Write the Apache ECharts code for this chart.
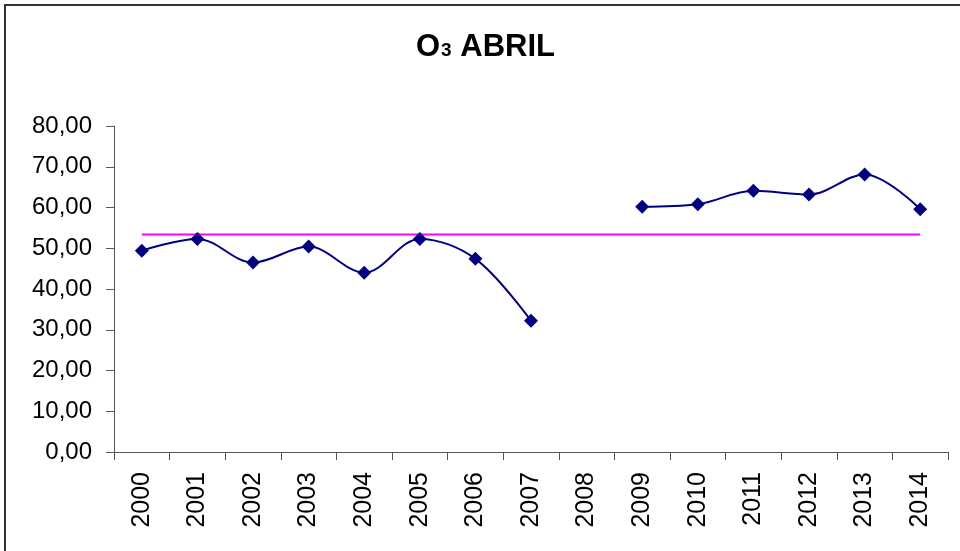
<!DOCTYPE html>
<html>
<head>
<meta charset="utf-8">
<script src="https://cdn.jsdelivr.net/npm/echarts@6/dist/echarts.min.js"></script>
<style>
html,body{margin:0;padding:0;background:#fff;}
#c{width:960px;height:551px;}
</style>
</head>
<body>
<div id="c"></div>
<script>
var years = ['2000','2001','2002','2003','2004','2005','2006','2007','2008','2009','2010','2011','2012','2013','2014'];
var o3Values = [49.4, 52.3, 46.5, 50.4, 44.0, 52.3, 47.4, 32.2, null, 60.2, 60.8, 64.1, 63.2, 68.1, 59.6];
var meanValue = 53.4;
var meanValues = years.map(function(){ return meanValue; });
var yTicks = {min: 0, max: 80, interval: 10};

var FONT = 'Liberation Sans, Arial, sans-serif';
var chart = echarts.init(document.getElementById('c'), null, {renderer: 'canvas'});
chart.setOption({
  backgroundColor: '#fff',
  animation: false,
  title: {
    text: '{a|O}{b|3}{a| ABRIL}',
    left: 411,
    top: 24,
    textStyle: {
      rich: {
        a: {fontFamily: FONT, fontWeight: 'bold', fontSize: 31, color: '#000', lineHeight: 34, verticalAlign: 'bottom'},
        b: {fontFamily: FONT, fontWeight: 'bold', fontSize: 19, color: '#000', lineHeight: 34, verticalAlign: 'bottom', padding: [0, 0, 3, 1]}
      }
    }
  },
  graphic: [{
    type: 'rect',
    shape: {x: 5, y: 5, width: 1200, height: 1200},
    style: {fill: 'none', stroke: '#333', lineWidth: 2},
    silent: true
  }],
  grid: {left: 114, right: 12, top: 126, bottom: 99, containLabel: false},
  xAxis: {
    type: 'category',
    data: years,
    boundaryGap: true,
    axisLine: {lineStyle: {color: '#555', width: 1}},
    axisTick: {show: true, interval: 0, length: 8, alignWithLabel: false, lineStyle: {color: '#555'}},
    axisLabel: {interval: 0, rotate: 90, margin: 20, fontSize: 25, fontFamily: FONT, color: '#000'},
    splitLine: {show: false}
  },
  yAxis: {
    type: 'value',
    min: yTicks.min, max: yTicks.max, interval: yTicks.interval,
    axisLine: {show: true, lineStyle: {color: '#555', width: 1}},
    axisTick: {show: true, length: 8, lineStyle: {color: '#555'}},
    axisLabel: {
      margin: 22, fontSize: 24, fontFamily: FONT, color: '#000',
      formatter: function(v){ return v.toFixed(2).replace('.', ','); }
    },
    splitLine: {show: false}
  },
  series: [{
    name: 'Media',
    type: 'line',
    data: meanValues,
    symbol: 'none',
    lineStyle: {color: '#FF00FF', width: 2},
    z: 1
  }, {
    name: 'O3',
    type: 'line',
    data: o3Values,
    smooth: 0.35,
    connectNulls: false,
    symbol: 'diamond',
    symbolSize: 14,
    itemStyle: {color: '#000080'},
    lineStyle: {color: '#000080', width: 2},
    z: 2
  }]
});
</script>
</body>
</html>
